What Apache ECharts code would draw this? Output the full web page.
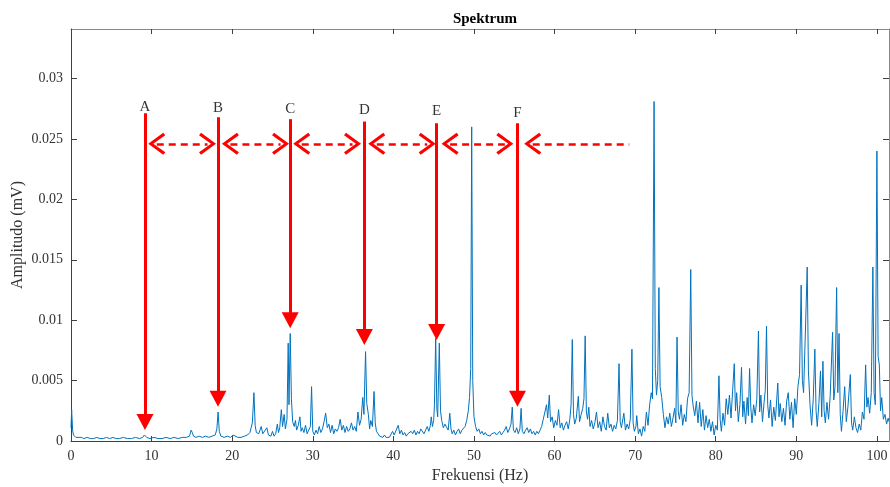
<!DOCTYPE html>
<html>
<head>
<meta charset="utf-8">
<script src="https://cdn.jsdelivr.net/npm/echarts@6/dist/echarts.min.js"></script>
<style>
html,body{margin:0;padding:0;background:#fff;}
#chart{width:890px;height:487px;}
</style>
</head>
<body>
<div id="chart"></div>
<script>
// spektrum [Hz, mV], dipecah per rentang frekuensi
var seg0_25 = [[0,0.0011],[0.08,0.0026],[0.2,0.0009],[0.3,0.0005],[0.45,0.0004],[0.6,0.0003],[0.8,0.0004],[1.0,0.0003],[1.3,0.0003],[1.6,0.0002],[2.0,0.0003],[2.4,0.0002],[2.8,0.0002],[3.2,0.0003],[3.6,0.0002],[4.0,0.0002],[4.4,0.0003],[4.8,0.0002],[5.2,0.0003],[5.6,0.0002],[6.0,0.0002],[6.5,0.0003],[7.0,0.0002],[7.5,0.0002],[8.0,0.0003],[8.5,0.0002],[8.9,0.0003],[9.1,0.0005],[9.25,0.0006],[9.4,0.0003],[9.8,0.0002],[10.3,0.0003],[10.8,0.0002],[11.3,0.0002],[11.8,0.0003],[12.3,0.0002],[12.8,0.0003],[13.3,0.0002],[13.8,0.0003],[14.3,0.0003],[14.7,0.0004],[14.9,0.0009],[15.05,0.0007],[15.2,0.0004],[15.5,0.0003],[15.9,0.0004],[16.3,0.0003],[16.7,0.0004],[17.1,0.0003],[17.5,0.0004],[17.9,0.0005],[18.1,0.0010],[18.25,0.0024],[18.4,0.0008],[18.6,0.0004],[19.0,0.0003],[19.4,0.0004],[19.8,0.0003],[20.1,0.0005],[20.3,0.0004],[20.7,0.0003],[21.1,0.0003],[21.5,0.0004],[21.9,0.0005],[22.2,0.0007],[22.5,0.0015],[22.7,0.0040],[22.85,0.0013],[23.0,0.0007],[23.3,0.0006],[23.6,0.0012],[23.8,0.0006],[24.0,0.0005],[24.3,0.0011],[24.5,0.0005],[24.8,0.0004],[25.0,0.0008]];
var seg25_50 = [[25.2,0.0004],[25.4,0.0006],[25.6,0.0014],[25.75,0.0007],[25.9,0.0011],[26.1,0.0026],[26.25,0.0012],[26.45,0.0022],[26.6,0.0010],[26.8,0.0018],[26.95,0.0081],[27.05,0.0030],[27.2,0.0089],[27.35,0.0035],[27.5,0.0016],[27.7,0.0012],[27.85,0.0017],[28.0,0.0009],[28.2,0.0013],[28.4,0.0020],[28.55,0.0008],[28.7,0.0011],[28.9,0.0007],[29.1,0.0013],[29.3,0.0006],[29.5,0.0009],[29.7,0.0012],[29.85,0.0045],[30.0,0.0008],[30.2,0.0005],[30.4,0.0009],[30.6,0.0006],[30.8,0.0012],[31.0,0.0007],[31.2,0.0010],[31.4,0.0016],[31.6,0.0023],[31.8,0.0011],[32.0,0.0014],[32.2,0.0007],[32.4,0.0013],[32.6,0.0006],[32.8,0.0010],[33.0,0.0008],[33.2,0.0011],[33.4,0.0018],[33.6,0.0009],[33.8,0.0013],[34.0,0.0007],[34.2,0.0012],[34.4,0.0008],[34.6,0.0010],[34.8,0.0015],[35.0,0.0009],[35.2,0.0012],[35.4,0.0008],[35.6,0.0024],[35.8,0.0013],[36.0,0.0018],[36.2,0.0036],[36.35,0.0022],[36.55,0.0074],[36.7,0.0031],[36.9,0.0022],[37.05,0.0010],[37.2,0.0017],[37.4,0.0012],[37.6,0.0041],[37.75,0.0015],[37.9,0.0008],[38.1,0.0006],[38.3,0.0004],[38.5,0.0005],[38.7,0.0003],[38.9,0.0005],[39.1,0.0003],[39.3,0.0004],[39.5,0.0003],[39.7,0.0004],[39.9,0.0008],[40.1,0.0005],[40.3,0.0006],[40.6,0.0013],[40.8,0.0006],[41.0,0.0009],[41.2,0.0005],[41.4,0.0007],[41.6,0.0004],[41.8,0.0006],[42.0,0.0005],[42.2,0.0008],[42.4,0.0006],[42.6,0.0009],[42.8,0.0005],[43.0,0.0008],[43.2,0.0006],[43.4,0.0010],[43.6,0.0011],[43.8,0.0006],[44.0,0.0009],[44.2,0.0012],[44.4,0.0008],[44.6,0.0013],[44.7,0.0020],[44.85,0.0012],[45.0,0.0017],[45.1,0.0030],[45.25,0.0085],[45.4,0.0026],[45.5,0.0020],[45.7,0.0081],[45.85,0.0025],[46.0,0.0017],[46.2,0.0011],[46.4,0.0014],[46.6,0.0015],[46.8,0.0009],[47.0,0.0023],[47.15,0.0010],[47.3,0.0006],[47.5,0.0009],[47.7,0.0005],[47.9,0.0008],[48.1,0.0010],[48.3,0.0006],[48.5,0.0009],[48.7,0.0008],[48.9,0.0012],[49.1,0.0017],[49.3,0.0025],[49.45,0.0036],[49.6,0.0060],[49.72,0.0260],[49.85,0.0050],[50.0,0.0020]];
var seg50_75 = [[50.2,0.0012],[50.4,0.0008],[50.6,0.0010],[50.8,0.0006],[51.0,0.0008],[51.2,0.0005],[51.4,0.0007],[51.6,0.0005],[51.8,0.0006],[52.0,0.0004],[52.2,0.0006],[52.4,0.0005],[52.6,0.0007],[52.8,0.0005],[53.0,0.0006],[53.2,0.0008],[53.4,0.0005],[53.6,0.0007],[53.8,0.0009],[54.0,0.0012],[54.2,0.0007],[54.4,0.0010],[54.6,0.0014],[54.75,0.0028],[54.9,0.0009],[55.1,0.0007],[55.3,0.0011],[55.5,0.0006],[55.7,0.0010],[55.85,0.0027],[56.0,0.0008],[56.2,0.0006],[56.4,0.0009],[56.6,0.0011],[56.8,0.0007],[57.0,0.0010],[57.2,0.0006],[57.4,0.0008],[57.6,0.0005],[57.8,0.0008],[58.0,0.0006],[58.2,0.0009],[58.4,0.0012],[58.6,0.0018],[58.8,0.0024],[59.0,0.0030],[59.15,0.0019],[59.35,0.0038],[59.5,0.0016],[59.7,0.0020],[59.9,0.0011],[60.1,0.0017],[60.3,0.0013],[60.5,0.0026],[60.7,0.0011],[60.9,0.0015],[61.1,0.0009],[61.3,0.0013],[61.5,0.0016],[61.7,0.0010],[61.9,0.0018],[62.05,0.0030],[62.2,0.0084],[62.35,0.0022],[62.5,0.0014],[62.7,0.0019],[62.95,0.0037],[63.1,0.0016],[63.3,0.0022],[63.5,0.0027],[63.65,0.0035],[63.8,0.0087],[63.95,0.0024],[64.1,0.0018],[64.25,0.0028],[64.4,0.0012],[64.6,0.0017],[64.8,0.0010],[65.0,0.0015],[65.2,0.0024],[65.4,0.0011],[65.6,0.0016],[65.8,0.0008],[66.0,0.0020],[66.2,0.0012],[66.4,0.0009],[66.6,0.0023],[66.8,0.0011],[67.0,0.0014],[67.2,0.0008],[67.4,0.0013],[67.6,0.0010],[67.8,0.0017],[68.0,0.0064],[68.15,0.0016],[68.3,0.0011],[68.6,0.0023],[68.8,0.0009],[69.0,0.0014],[69.2,0.0010],[69.4,0.0018],[69.6,0.0076],[69.75,0.0015],[69.9,0.0008],[70.1,0.0012],[70.2,0.0021],[70.4,0.0006],[70.6,0.0010],[70.8,0.0004],[71.0,0.0012],[71.2,0.0008],[71.4,0.0024],[71.6,0.0013],[71.8,0.0030],[72.0,0.0040],[72.15,0.0035],[72.35,0.0281],[72.5,0.0060],[72.65,0.0038],[72.8,0.0050],[72.95,0.0127],[73.1,0.0045],[73.3,0.0036],[73.5,0.0022],[73.7,0.0011],[73.9,0.0020],[74.1,0.0014],[74.3,0.0023],[74.5,0.0012],[74.7,0.0019],[74.9,0.0027],[75.05,0.0015],[75.2,0.0086],[75.35,0.0024]];
var seg75_102 = [[75.5,0.0018],[75.7,0.0030],[75.9,0.0013],[76.1,0.0022],[76.3,0.0016],[76.5,0.0035],[76.7,0.0040],[76.9,0.0142],[77.05,0.0038],[77.2,0.0029],[77.4,0.0021],[77.6,0.0033],[77.8,0.0015],[78.0,0.0032],[78.2,0.0012],[78.4,0.0026],[78.6,0.0009],[78.8,0.0021],[79.0,0.0011],[79.2,0.0018],[79.4,0.0008],[79.6,0.0016],[79.8,0.0005],[80.0,0.0013],[80.2,0.0009],[80.4,0.0054],[80.55,0.0018],[80.7,0.0008],[80.9,0.0023],[81.1,0.0013],[81.3,0.0035],[81.5,0.0022],[81.7,0.0038],[81.9,0.0019],[82.1,0.0042],[82.3,0.0064],[82.45,0.0025],[82.6,0.0040],[82.8,0.0016],[83.0,0.0030],[83.2,0.0061],[83.35,0.0020],[83.5,0.0033],[83.7,0.0014],[83.9,0.0036],[84.05,0.0021],[84.2,0.0060],[84.35,0.0028],[84.5,0.0015],[84.7,0.0030],[84.9,0.0021],[85.1,0.0035],[85.3,0.0091],[85.45,0.0024],[85.6,0.0038],[85.8,0.0016],[86.0,0.0032],[86.15,0.0042],[86.3,0.0095],[86.45,0.0030],[86.6,0.0019],[86.8,0.0034],[87.0,0.0012],[87.2,0.0028],[87.4,0.0017],[87.7,0.0048],[87.85,0.0020],[88.0,0.0031],[88.2,0.0016],[88.4,0.0027],[88.6,0.0013],[88.8,0.0033],[89.0,0.0040],[89.2,0.0018],[89.4,0.0032],[89.6,0.0011],[89.8,0.0035],[90.0,0.0022],[90.2,0.0045],[90.4,0.0055],[90.6,0.0129],[90.75,0.0050],[90.9,0.0040],[91.15,0.0096],[91.35,0.0144],[91.5,0.0058],[91.7,0.0030],[91.9,0.0013],[92.1,0.0035],[92.3,0.0076],[92.45,0.0025],[92.6,0.0012],[92.8,0.0031],[93.0,0.0058],[93.15,0.0020],[93.3,0.0066],[93.45,0.0025],[93.6,0.0015],[93.8,0.0032],[94.0,0.0018],[94.2,0.0037],[94.5,0.0090],[94.65,0.0034],[94.8,0.0045],[95.0,0.0127],[95.15,0.0040],[95.3,0.0089],[95.45,0.0022],[95.6,0.0008],[95.8,0.0025],[96.0,0.0045],[96.2,0.0016],[96.4,0.0028],[96.7,0.0055],[96.85,0.0015],[97.0,0.0009],[97.2,0.0020],[97.4,0.0011],[97.6,0.0007],[97.8,0.0014],[98.0,0.0009],[98.2,0.0024],[98.4,0.0018],[98.6,0.0063],[98.75,0.0028],[98.9,0.0036],[99.1,0.0023],[99.3,0.0040],[99.5,0.0144],[99.65,0.0040],[99.8,0.0030],[100.0,0.0240],[100.15,0.0070],[100.3,0.0063],[100.45,0.0025],[100.6,0.0036],[100.8,0.0018],[101.0,0.0022],[101.2,0.0014],[101.4,0.0019],[101.5,0.0016]];

// label sumbu
var xTicks = [0, 10, 20, 30, 40, 50, 60, 70, 80, 90, 100];
var yTicks = [0, 0.005, 0.01, 0.015, 0.02, 0.025, 0.03];

// panah penanda harmonik A..F (frekuensi, ujung atas, pusat kepala panah)
var markNames = ['A','B','C','D','E','F'];
var markFreq  = [9.18, 18.24, 27.2, 36.4, 45.37, 55.4];
var markTop   = [0.02713, 0.0268, 0.02664, 0.02644, 0.0263, 0.0263];
var markTip   = [0.00157, 0.0035, 0.01, 0.00861, 0.00902, 0.0035];
var labelY    = [0.0276, 0.02752, 0.02744, 0.02736, 0.02728, 0.02712];
// panah putus-putus antar penanda (pusat kepala panah)
var gapFrom = [10.64, 19.78, 28.63, 37.94, 47.04, 57.29];
var gapTo   = [16.94, 26.0, 34.93, 44.2, 53.83, 69.27];
var gapY = 0.0246;

var xMax = 101.5, yMax = 0.0341;
var serif = 'Liberation Serif';
var axisCol = '#404040';
var chevron = 'path://M11,0 L22,15 L19.5,17 L11,5 L2.5,17 L0,15 Z';

var spectrum = seg0_25.concat(seg25_50, seg50_75, seg75_102);

var vArrows = [], dArrows = [], letters = [];
for (var i = 0; i < markNames.length; i++) {
  vArrows.push([{coord:[markFreq[i], markTop[i]]},{coord:[markFreq[i], markTip[i]]}]);
  dArrows.push([
    {coord:[gapFrom[i], gapY], symbol: chevron},
    {coord:[gapTo[i], gapY], symbol: i < markNames.length - 1 ? chevron : 'none'}
  ]);
  letters.push({value:[markFreq[i], labelY[i]], name: markNames[i]});
}

function axisX(pos, withLabel) {
  return {
    type: 'value', min: 0, max: xMax, position: pos,
    axisLine: {onZero: false, lineStyle: {color: pos == 'top' ? '#888' : axisCol, width: 1}},
    axisTick: {inside: true, length: 5, customValues: xTicks, lineStyle: {color: axisCol}},
    axisLabel: {show: withLabel, customValues: xTicks, fontFamily: serif, fontSize: 14, color: '#333', margin: 8},
    splitLine: {show: false}
  };
}
function axisY(pos, withLabel) {
  return {
    type: 'value', min: 0, max: yMax, position: pos,
    axisLine: {show: true, onZero: false, lineStyle: {color: pos == 'right' ? '#888' : axisCol, width: 1}},
    axisTick: {show: true, inside: true, length: 6, customValues: yTicks, lineStyle: {color: axisCol}},
    axisLabel: {show: withLabel, customValues: yTicks, fontFamily: serif, fontSize: 14, color: '#333', margin: 8,
      formatter: function (v) { return String(+v.toFixed(3)); }},
    splitLine: {show: false}
  };
}

var xBottom = axisX('bottom', true);
xBottom.name = 'Frekuensi (Hz)';
xBottom.nameLocation = 'middle';
xBottom.nameGap = 27;
xBottom.nameMoveOverlap = false;
xBottom.nameTextStyle = {fontFamily: serif, fontSize: 16, color: '#333'};
var yLeft = axisY('left', true);
yLeft.name = 'Amplitudo (mV)';
yLeft.nameLocation = 'middle';
yLeft.nameGap = 45;
yLeft.nameMoveOverlap = false;
yLeft.nameTextStyle = {fontFamily: serif, fontSize: 16, color: '#333'};

var myChart = echarts.init(document.getElementById('chart'));
var option = {
  animation: false,
  title: {
    text: 'Spektrum', left: 480, top: 7, textAlign: 'center',
    textStyle: {fontFamily: serif, fontWeight: 'bold', fontSize: 15, color: '#000'}
  },
  grid: {left: 71, right: 1, top: 29, bottom: 46, containLabel: false, outerBoundsMode: 'none'},
  xAxis: [xBottom, axisX('top', false)],
  yAxis: [yLeft, axisY('right', false)],
  series: [{
    type: 'line', name: 'spektrum', data: spectrum,
    showSymbol: false, symbol: 'none',
    lineStyle: {color: '#0072BD', width: 1},
    itemStyle: {color: '#0072BD'}
  }, {
    type: 'line', data: [], silent: true,
    markLine: {
      silent: true, animation: false,
      symbol: ['none', 'triangle'], symbolSize: [17, 16],
      label: {show: false},
      lineStyle: {color: '#ff0000', width: 3, type: 'solid'},
      emphasis: {disabled: true},
      data: vArrows
    }
  }, {
    type: 'line', data: [], silent: true,
    markLine: {
      silent: true, animation: false,
      symbolSize: [22, 17],
      label: {show: false},
      lineStyle: {color: '#ff0000', width: 2.5, type: [7, 5]},
      emphasis: {disabled: true},
      data: dArrows
    }
  }, {
    type: 'scatter', data: letters, symbolSize: 0, silent: true,
    label: {show: true, position: 'inside', formatter: '{b}',
      fontFamily: serif, fontSize: 15, color: '#000'}
  }]
};
myChart.setOption(option);
</script>
</body>
</html>
